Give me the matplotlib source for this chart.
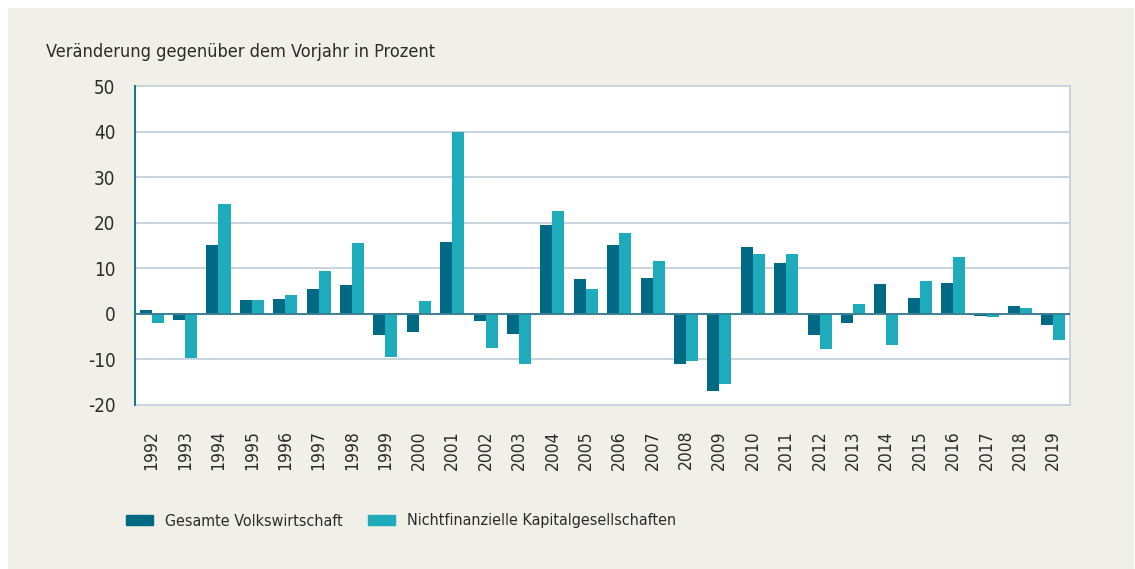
import numpy as np
import matplotlib
matplotlib.use("Agg")
import matplotlib.pyplot as plt
from matplotlib import font_manager
from matplotlib.patches import Rectangle, Patch

# Veraenderung gegenueber dem Vorjahr in Prozent
years = [str(y) for y in range(1992, 2020)]
gesamt = [0.8, -1.3, 15.0, 3.0, 3.2, 5.4, 6.3, -4.7, -4.0, 15.7,
          -1.6, -4.5, 19.6, 7.6, 15.0, 7.8, -11.0, -16.9, 14.6, 11.1,
          -4.7, -2.0, 6.5, 3.4, 6.7, -0.5, 1.7, -2.5]
nichtfin = [-2.0, -9.6, 24.0, 3.0, 4.1, 9.3, 15.5, -9.5, 2.8, 40.0,
            -7.5, -11.0, 22.5, 5.4, 17.7, 11.5, -10.4, -15.4, 13.1, 13.1,
            -7.7, 2.1, -6.9, 7.2, 12.4, -0.7, 1.2, -5.8]
yticks = [-20, -10, 0, 10, 20, 30, 40, 50]

title = "Veränderung gegenüber dem Vorjahr in Prozent"
labels = ["Gesamte Volkswirtschaft", "Nichtfinanzielle Kapitalgesellschaften"]

dark = "#006a84"
light = "#1eacbc"
beige = "#f0efe8"
grid_col = "#c3d1dc"
txt = "#2b2b2b"

# use a narrow font if there is one, the original is a condensed face
names = {f.name for f in font_manager.fontManager.ttflist}
if "Liberation Sans Narrow" in names:
    plt.rcParams["font.family"] = ["Liberation Sans Narrow", "DejaVu Sans"]
else:
    plt.rcParams["font.family"] = ["DejaVu Sans"]
    plt.rcParams["font.stretch"] = "condensed"
plt.rcParams["axes.unicode_minus"] = False

W, H = 1135, 569
fig = plt.figure(figsize=(W / 100, H / 100), dpi=100, facecolor="white")

# beige panel behind everything
fig.patches.append(Rectangle((8 / W, 0), 1 - 9 / W, 1 - 8 / H, transform=fig.transFigure,
                             facecolor=beige, edgecolor="none", zorder=-10))

ax = fig.add_axes([135 / W, 1 - 405 / H, 935 / W, (405 - 86) / H])
ax.set_facecolor("white")

x = np.arange(len(years))
bw = 0.36
ax.bar(x - bw / 2, gesamt, width=bw, color=dark, zorder=3)
ax.bar(x + bw / 2, nichtfin, width=bw, color=light, zorder=3)

ax.set_xlim(-0.5, len(years) - 0.5)
ax.set_ylim(-20, 50)
ax.set_yticks(yticks)
ax.set_xticks(x)
ax.set_xticklabels(years, rotation=90)

for v in yticks:
    if v == 0:
        ax.axhline(v, color="#3b7f95", lw=1.4, zorder=4)
    else:
        ax.axhline(v, color=grid_col, lw=1.3, zorder=1, clip_on=False)

for s in ["top", "bottom"]:
    ax.spines[s].set_visible(False)
ax.spines["left"].set_color(dark)
ax.spines["left"].set_linewidth(1.3)
ax.spines["right"].set_color(grid_col)
ax.spines["right"].set_linewidth(1.3)

ax.tick_params(axis="both", length=0, colors=txt)
ax.tick_params(axis="y", pad=14, labelsize=13.5)
ax.tick_params(axis="x", pad=18, labelsize=12.5)

fig.text(46 / W, 1 - 57 / H, title, fontsize=13, color=txt, va="baseline", ha="left")

# one legend per entry so each patch sits where it does in the original
for lab, col, left in [(labels[0], dark, 126), (labels[1], light, 368)]:
    fig.legend(handles=[Patch(color=col, label=lab)], loc="center left",
               bbox_to_anchor=(left / W, 1 - 521 / H), frameon=False,
               fontsize=11.5, labelcolor=txt, handlelength=1.7, handleheight=0.65,
               handletextpad=0.75, borderpad=0, borderaxespad=0)

fig.savefig("out.png", dpi=100, facecolor=fig.get_facecolor())
